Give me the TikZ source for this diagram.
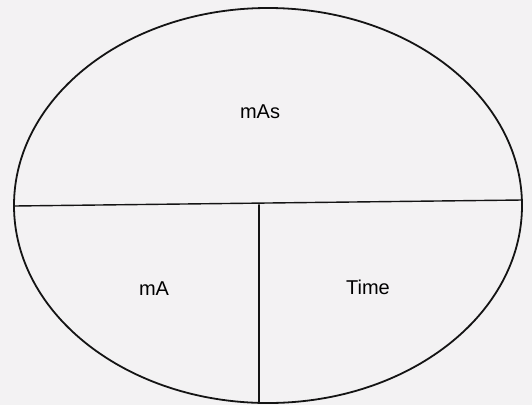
\documentclass[tikz,border=0pt]{standalone}
\usepackage{fontspec}
\setmainfont{Liberation Sans}
\definecolor{scanpaper}{HTML}{F3F2F3}
\definecolor{penline}{HTML}{141414}

\begin{document}
\begin{tikzpicture}[
  x=1pt,
  y=-1pt,
  line join=round,
  line cap=round,
  rim/.style={draw=penline,line width=1.8pt},
  divider/.style={draw=penline,line width=1.4pt},
  label/.style={font=\fontsize{20}{22}\selectfont,text=black,inner sep=0pt}
]
  % Paper background fixes the 532 x 405 frame.
  \fill[scanpaper] (0,0) rectangle (532,405);
  \useasboundingbox (0,0) rectangle (532,405);

  % Outer ellipse of the mAs memory aid.
  \draw[rim] (268,205.5) ellipse[x radius=254,y radius=197.5];

  % End points of the dividing lines on the rim.
  \coordinate (Lrim) at (14,206);
  \coordinate (Rrim) at (522,200);
  \coordinate (Mid) at (259,204.9);
  \coordinate (Bot) at (259,402.9);

  \draw[divider] (Lrim) -- (Rrim);
  \draw[divider] (Mid) -- (Bot);

  % Quantities in each part.
  \node[label] (mas) at (260,112) {mAs};
  \node[label] (ma) at (154,289) {mA};
  \node[label] (time) at (368,287) {Time};
\end{tikzpicture}
\end{document}
